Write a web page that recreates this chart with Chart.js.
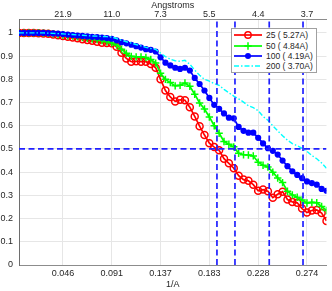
<!DOCTYPE html>
<html>
<head>
<meta charset="utf-8">
<script src="https://cdn.jsdelivr.net/npm/chart.js@4/dist/chart.umd.min.js"></script>
<style>
  body { margin: 0; background: #fff; }
  #wrap { position: relative; width: 332px; height: 291px; }
  #legend {
    position: absolute; left: 231px; top: 28px; width: 86px; height: 45px;
    border: 1px solid #a0a0a0; background: #fff; box-sizing: border-box;
    font: 8.5px "Liberation Sans", Arial, sans-serif; color: #262626; padding-top: 1px;
  }
  #legend .row { height: 10.4px; display: flex; align-items: center; }
  #legend svg { margin-left: 2px; margin-right: 4px; }
</style>
</head>
<body>
<div id="wrap">
  <canvas id="fsc" width="332" height="291"></canvas>
  <div id="legend"></div>
</div>
<script>
// spatial frequency of each shell (1/A)
const freq = [0.00457, 0.00913, 0.01370, 0.01826, 0.02283, 0.02740, 0.03196, 0.03653, 0.04110, 0.04566,
  0.05023, 0.05479, 0.05936, 0.06393, 0.06849, 0.07306, 0.07763, 0.08219, 0.08676, 0.09132,
  0.09589, 0.10046, 0.10502, 0.10959, 0.11416, 0.11872, 0.12329, 0.12785, 0.13242, 0.13699,
  0.14155, 0.14612, 0.15068, 0.15525, 0.15982, 0.16438, 0.16895, 0.17352, 0.17808, 0.18265,
  0.18721, 0.19178, 0.19635, 0.20091, 0.20548, 0.21005, 0.21461, 0.21918, 0.22374, 0.22831,
  0.23288, 0.23744, 0.24201, 0.24658, 0.25114, 0.25571, 0.26027, 0.26484, 0.26941, 0.27397,
  0.27854, 0.28311, 0.28767, 0.29224]

const fsc25 = [1.0, 1.0, 1.0, 1.0, 0.999, 0.998, 0.996, 0.993, 0.99, 0.987,
  0.984, 0.98, 0.977, 0.973, 0.969, 0.966, 0.962, 0.958, 0.957, 0.955,
  0.94, 0.915, 0.89, 0.876, 0.878, 0.876, 0.876, 0.866, 0.85, 0.8,
  0.752, 0.724, 0.705, 0.712, 0.71, 0.68, 0.64, 0.598, 0.56, 0.525,
  0.508, 0.494, 0.458, 0.438, 0.417, 0.385, 0.368, 0.363, 0.346, 0.32,
  0.325, 0.318, 0.29, 0.305, 0.316, 0.282, 0.272, 0.268, 0.243, 0.226,
  0.235, 0.237, 0.224, 0.19]

const fsc50 = [1.0, 1.0, 1.0, 1.0, 1.0, 0.999, 0.998, 0.996, 0.993, 0.99,
  0.988, 0.986, 0.983, 0.98, 0.977, 0.974, 0.971, 0.967, 0.962, 0.957,
  0.948, 0.93, 0.912, 0.899, 0.897, 0.897, 0.894, 0.886, 0.87, 0.826,
  0.8, 0.786, 0.772, 0.774, 0.784, 0.77, 0.736, 0.698, 0.672, 0.638,
  0.6, 0.568, 0.532, 0.52, 0.509, 0.481, 0.475, 0.474, 0.47, 0.443,
  0.43, 0.422, 0.4, 0.375, 0.355, 0.318, 0.302, 0.292, 0.28, 0.267,
  0.27, 0.268, 0.252, 0.235]

const fsc100 = [1.0, 1.0, 1.0, 1.0, 1.0, 1.0, 0.999, 0.998, 0.997, 0.995,
  0.993, 0.991, 0.989, 0.987, 0.985, 0.983, 0.982, 0.98, 0.978, 0.975,
  0.968, 0.96, 0.955, 0.949, 0.943, 0.937, 0.93, 0.927, 0.92, 0.895,
  0.872, 0.86, 0.85, 0.845, 0.85, 0.838, 0.806, 0.78, 0.752, 0.72,
  0.69, 0.673, 0.653, 0.635, 0.632, 0.595, 0.578, 0.57, 0.57, 0.548,
  0.524, 0.503, 0.492, 0.476, 0.45, 0.426, 0.404, 0.388, 0.374, 0.36,
  0.353, 0.346, 0.328, 0.32]

const fsc200 = [1.0, 1.0, 1.0, 1.0, 1.0, 1.0, 0.999, 0.998, 0.997, 0.996,
  0.994, 0.993, 0.991, 0.99, 0.988, 0.987, 0.986, 0.985, 0.984, 0.982,
  0.976, 0.968, 0.962, 0.956, 0.95, 0.944, 0.938, 0.933, 0.929, 0.913,
  0.898, 0.887, 0.88, 0.878, 0.882, 0.865, 0.84, 0.818, 0.8, 0.792,
  0.782, 0.774, 0.757, 0.742, 0.728, 0.716, 0.702, 0.686, 0.678, 0.665,
  0.64, 0.624, 0.6, 0.578, 0.557, 0.538, 0.523, 0.514, 0.503, 0.49,
  0.472, 0.458, 0.44, 0.417]

const seriesNames = ['25', '50', '100', '200']
const resolutions = [5.27, 4.84, 4.19, 3.70]   // Angstrom at FSC = 0.5
const threshold = 0.5

const xTicks = [0.04566, 0.09132, 0.13699, 0.18265, 0.22831, 0.27397]
const xLabels = ['0.046', '0.091', '0.137', '0.183', '0.228', '0.274']
const angLabels = ['21.9', '11.0', '7.3', '5.5', '4.4', '3.7']
const yTicks = [0, 0.1, 0.2, 0.3, 0.4, 0.5, 0.6, 0.7, 0.8, 0.9, 1]
const yLabels = ['0', '0.1', '0.2', '0.3', '0.4', '0.5', '0.6', '0.7', '0.8', '0.9', '1']

const xMin = freq[0], xMax = freq[freq.length - 1], yMax = 1.06
const colors = ['#ff0000', '#00ff00', '#0000ff', '#00ffff']
const dashBlue = '#2020ff'
const font = { family: '"Liberation Sans", Arial, sans-serif', size: 9 }
const txt = '#262626'

const pts = vals => freq.map((f, i) => ({ x: f, y: vals[i] }))

const datasets = [
  { label: '25', data: pts(fsc25), borderColor: colors[0], borderWidth: 1.7, order: 4,
    pointStyle: 'circle', pointRadius: 3.5, pointBorderWidth: 1.5,
    pointBorderColor: colors[0], pointBackgroundColor: 'rgba(255,255,255,0)' },
  { label: '50', data: pts(fsc50), borderColor: colors[1], borderWidth: 1.7, order: 3,
    pointStyle: 'cross', pointRadius: 3.7, pointBorderWidth: 1.5, pointBorderColor: colors[1] },
  { label: '100', data: pts(fsc100), borderColor: colors[2], borderWidth: 1.7, order: 2,
    pointStyle: 'circle', pointRadius: 3.1, pointBorderWidth: 0,
    pointBackgroundColor: colors[2] },
  { label: '200', data: pts(fsc200), borderColor: colors[3], borderWidth: 1.4, order: 1,
    borderDash: [5, 2, 1.5, 2], pointRadius: 0 }
]

resolutions.forEach(r => {
  datasets.push({ data: [{ x: 1 / r, y: 0 }, { x: 1 / r, y: yMax }], borderColor: dashBlue,
    borderWidth: 1.7, borderDash: [6, 3.5], pointRadius: 0, order: 0 })
})
datasets.push({ data: [{ x: xMin, y: threshold }, { x: xMax, y: threshold }], borderColor: dashBlue,
  borderWidth: 1.7, borderDash: [6, 3.5], pointRadius: 0, order: 0 })

new Chart(document.getElementById('fsc'), {
  type: 'line',
  data: { datasets: datasets },
  options: {
    responsive: false,
    animation: false,
    layout: { padding: { right: 5 } },
    plugins: { legend: { display: false }, tooltip: { enabled: false } },
    scales: {
      x: {
        type: 'linear', position: 'bottom', min: xMin, max: xMax,
        afterBuildTicks: s => { s.ticks = xTicks.map(v => ({ value: v })) },
        afterFit: s => { s.height = 26 },
        ticks: { font: font, color: txt, padding: 3, maxRotation: 0,
          callback: (v, i) => xLabels[i] },
        grid: { color: '#e6e6e6', drawTicks: false },
        border: { color: '#8c8c8c' },
        title: { display: true, text: '1/A', font: font, color: txt, padding: { top: 0, bottom: 1 } }
      },
      x2: {
        type: 'linear', position: 'top', min: xMin, max: xMax,
        afterBuildTicks: s => { s.ticks = xTicks.map(v => ({ value: v })) },
        afterFit: s => { s.height = 19 },
        ticks: { font: font, color: txt, padding: -1, maxRotation: 0,
          callback: (v, i) => angLabels[i] },
        grid: { display: false, drawTicks: false },
        border: { color: '#8c8c8c' },
        title: { display: true, text: 'Angstroms', font: font, color: txt, padding: { top: 0, bottom: 0 } }
      },
      y: {
        type: 'linear', min: 0, max: yMax,
        afterBuildTicks: s => { s.ticks = yTicks.map(v => ({ value: v })) },
        afterFit: s => { s.width = 19 },
        ticks: { font: font, color: txt, padding: 6,
          callback: (v, i) => yLabels[i] },
        grid: { color: '#e6e6e6', drawTicks: false },
        border: { color: '#6e6e6e' }
      }
    }
  }
})

// legend box in the upper right of the plot
const legend = document.getElementById('legend')
seriesNames.forEach((name, i) => {
  let mark = ''
  if (i === 0) mark = `<circle cx="14" cy="5" r="3.2" fill="none" stroke="${colors[0]}" stroke-width="1.4"/>`
  if (i === 1) mark = `<path d="M14 1.3V8.7M10.3 5H17.7" stroke="${colors[1]}" stroke-width="1.5"/>`
  if (i === 2) mark = `<circle cx="14" cy="5" r="3" fill="${colors[2]}"/>`
  const dash = i === 3 ? ' stroke-dasharray="5 2 1.5 2"' : ''
  const row = document.createElement('div')
  row.className = 'row'
  row.innerHTML = `<svg width="28" height="10"><line x1="0" y1="5" x2="28" y2="5" stroke="${colors[i]}" stroke-width="${i === 3 ? 1.4 : 1.7}"${dash}/>${mark}</svg>` +
    `<span>${name} ( ${resolutions[i].toFixed(2)}A)</span>`
  legend.appendChild(row)
})
</script>
</body>
</html>
